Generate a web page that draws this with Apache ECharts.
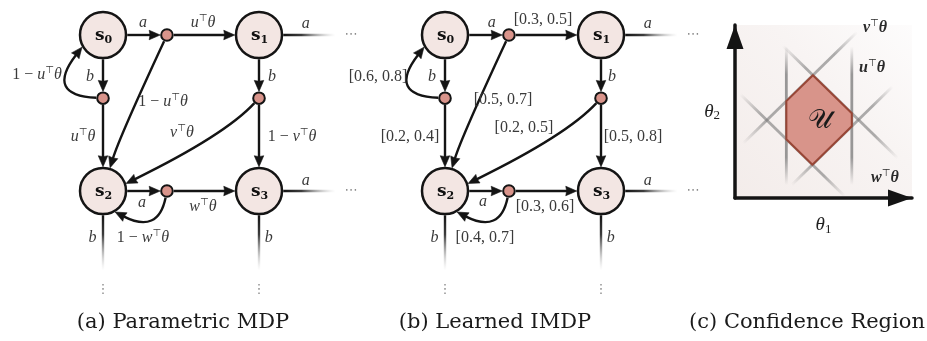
<!DOCTYPE html>
<html>
<head>
<meta charset="utf-8">
<script src="https://cdn.jsdelivr.net/npm/echarts@6/dist/echarts.min.js"></script>
<style>
  html, body { margin: 0; padding: 0; background: #ffffff; }
  #main { width: 927px; height: 341px; }
</style>
</head>
<body>
<div id="main"></div>
<script>
// ---------------- MDP fragment: states, choice nodes, transitions ----------------
const stateIds  = ['s0', 's1', 's2', 's3'];
const choiceIds = ['a0', 'b0', 'b1', 'a2'];          // (state, action) nodes
const edgeFrom  = ['s0', 'a0', 'a0', 's0', 'b0', 'b0', 's1', 'b1', 'b1', 's2', 'a2', 'a2'];
const edgeTo    = ['a0', 's1', 's2', 'b0', 's0', 's2', 'b1', 's2', 's3', 'a2', 's3', 's2'];

// (a) parametric transition probabilities / action names
const paramLabels = ['a', 'u⊤θ', '1 − u⊤θ', 'b', '1 − u⊤θ', 'u⊤θ', 'b', 'v⊤θ', '1 − v⊤θ', 'a', 'w⊤θ', '1 − w⊤θ'];
// (b) learned probability intervals (null where the edge is an action choice)
const actionNames  = ['a', null, null, 'b', null, null, 'b', null, null, 'a', null, null];
const intervalLow  = [null, 0.3, 0.5, null, 0.6, 0.2, null, 0.2, 0.5, null, 0.3, 0.4];
const intervalHigh = [null, 0.5, 0.7, null, 0.8, 0.4, null, 0.5, 0.8, null, 0.6, 0.7];

// transitions that leave the drawn fragment
const stubFrom   = ['s1', 's3', 's2', 's3'];
const stubAction = ['a', 'a', 'b', 'b'];
const stubDir    = ['right', 'right', 'down', 'down'];

// (c) confidence region over (θ1, θ2): bounding constraint lines and the region polygon
const segNames = ['u', 'u', 'v', 'v', 'w', 'w'];
const segX1 = [2.9, 6.6, 0.45, 3.2, 2.7, 0.3];
const segY1 = [0.75, 0.75, 3.15, 0.75, 8.8, 6.0];
const segX2 = [2.9, 6.6, 6.9, 8.9, 9.2, 6.2];
const segY2 = [8.75, 8.75, 9.6, 6.45, 2.3, 0.1];
const regionT1 = [4.4, 6.6, 6.6, 4.375, 2.9, 2.9];
const regionT2 = [7.1, 4.9, 4.15, 1.925, 3.4, 5.6];
const constraintLabels = ['v⊤θ', 'u⊤θ', 'w⊤θ'];

const captions = ['(a) Parametric MDP', '(b) Learned IMDP', '(c) Confidence Region'];

// ---------------- layout (grid units: column, row) ----------------
const nodePos = {
  s0: [0, 0], s1: [1, 0], s2: [0, 1], s3: [1, 1],
  a0: [0.41, 0], b0: [0, 0.405], b1: [1, 0.405], a2: [0.41, 1]
};
const bendCtrl   = { 2: [0.103, 0.66], 4: [-0.372, 0.385], 7: [0.782, 0.641], 11: [0.353, 1.276] };
const bendEndDeg = { 2: -73, 4: 150, 7: -18, 11: 60 };
const labelPosA = [[0.256, -0.077], [0.641, -0.077], [0.385, 0.43], [-0.083, 0.27], [-0.423, 0.256], [-0.128, 0.654],
                   [1.083, 0.27], [0.506, 0.628], [1.212, 0.654], [0.25, 1.077], [0.641, 1.103], [0.256, 1.301]];
const labelPosB = [[0.30, -0.077], [0.628, -0.096], [0.372, 0.417], [-0.083, 0.269], [-0.429, 0.269], [-0.224, 0.654],
                   [1.07, 0.27], [0.506, 0.596], [1.205, 0.654], [0.244, 1.07], [0.641, 1.103], [0.256, 1.301]];
const stubLabelOff = [[0.3, -0.07], [0.3, -0.065], [-0.068, 0.30], [0.062, 0.30]];
const constraintLabelPos = [[7.91, 9.83], [7.74, 7.51], [8.47, 1.16]];
const regionLabelPos = [4.8, 4.45];

// ---------------- styling ----------------
const INK = '#141414';
const LABEL_INK = '#3a3a3a';
const STATE_FILL = '#f3e6e3';
const CHOICE_FILL = '#d9948b';
const R_STATE = 23, W_STATE = 2.5, R_CHOICE = 5.8, W_CHOICE = 2;
const EDGE_W = 2.4, ARROW_L = 11, ARROW_W = 9.5;
const MATH_FONT = "'Liberation Serif', 'DejaVu Serif', serif";
const CAPTION_FONT = "'DejaVu Serif', serif";

function mathRich(size, bold, color) {
  const sup = Math.round(size * 0.62);
  return {
    i: { fontFamily: MATH_FONT, fontStyle: 'italic', fontWeight: bold ? 'bold' : 'normal', fontSize: size, lineHeight: size + 4, verticalAlign: 'middle', fill: color, color: color },
    r: { fontFamily: MATH_FONT, fontSize: size, lineHeight: size + 4, verticalAlign: 'middle', fill: color, color: color },
    t: { fontFamily: "'DejaVu Sans', sans-serif", fontSize: sup, lineHeight: sup + 2, verticalAlign: 'top', fill: color, color: color }
  };
}
const RICH_LABEL = mathRich(16, false, LABEL_INK);
const RICH_VEC = mathRich(16, true, '#2a2a2a');

// math-style markup: letters italic, ⊤ raised, everything else upright
function toRich(s) {
  let out = '';
  for (const ch of s) {
    if (ch === '⊤') out += '{t|⊤}';
    else if (/[a-zθ]/.test(ch)) out += '{i|' + ch + '}';
    else out += '{r|' + ch + '}';
  }
  return out;
}
const intervalLabels = actionNames.map((a, i) =>
  a !== null ? a : '[' + intervalLow[i].toFixed(1) + ', ' + intervalHigh[i].toFixed(1) + ']');

function isState(id) { return stateIds.indexOf(id) >= 0; }
function outerR(id) { return isState(id) ? R_STATE + W_STATE / 2 : R_CHOICE + W_CHOICE / 2; }
function unit(dx, dy) { const l = Math.hypot(dx, dy) || 1; return [dx / l, dy / l]; }

function arrowHead(tip, d) {
  const n = [-d[1], d[0]];
  const bx = tip[0] - d[0] * ARROW_L, by = tip[1] - d[1] * ARROW_L;
  const mx = tip[0] - d[0] * ARROW_L * 0.92, my = tip[1] - d[1] * ARROW_L * 0.92;
  return {
    type: 'polygon',
    shape: { points: [tip, [bx + n[0] * ARROW_W / 2, by + n[1] * ARROW_W / 2], [mx, my], [bx - n[0] * ARROW_W / 2, by - n[1] * ARROW_W / 2]] },
    style: { fill: INK, stroke: INK, lineWidth: 0.6, lineJoin: 'round' }
  };
}

function renderEdge(params, api) {
  const i = api.value(2);
  const f = edgeFrom[i], t = edgeTo[i];
  const A = api.coord(nodePos[f]), B = api.coord(nodePos[t]);
  const ra = outerR(f), rb = outerR(t);
  let tip, d, path;
  if (bendCtrl[i]) {
    const C = api.coord(bendCtrl[i]);
    const u0 = unit(C[0] - A[0], C[1] - A[1]);
    const start = [A[0] + u0[0] * ra, A[1] + u0[1] * ra];
    const ang = bendEndDeg[i] * Math.PI / 180;
    tip = [B[0] + Math.cos(ang) * rb, B[1] + Math.sin(ang) * rb];
    d = unit(tip[0] - C[0], tip[1] - C[1]);
    const end = [tip[0] - d[0] * (ARROW_L - 1.5), tip[1] - d[1] * (ARROW_L - 1.5)];
    path = { type: 'bezierCurve', shape: { x1: start[0], y1: start[1], x2: end[0], y2: end[1], cpx1: C[0], cpy1: C[1] },
             style: { stroke: INK, fill: 'none', lineWidth: EDGE_W } };
  } else {
    d = unit(B[0] - A[0], B[1] - A[1]);
    const start = [A[0] + d[0] * ra, A[1] + d[1] * ra];
    tip = [B[0] - d[0] * rb, B[1] - d[1] * rb];
    const end = [tip[0] - d[0] * (ARROW_L - 1.5), tip[1] - d[1] * (ARROW_L - 1.5)];
    path = { type: 'line', shape: { x1: start[0], y1: start[1], x2: end[0], y2: end[1] },
             style: { stroke: INK, fill: 'none', lineWidth: EDGE_W } };
  }
  return { type: 'group', children: [path, arrowHead(tip, d)] };
}

function renderStub(params, api) {
  const i = api.value(2);
  const p = nodePos[stubFrom[i]];
  const C = api.coord(p);
  const right = stubDir[i] === 'right';
  const r = outerR(stubFrom[i]);
  const endPt = api.coord(right ? [p[0] + 0.49, p[1]] : [p[0], p[1] + 0.51]);
  const dotPt = api.coord(right ? [p[0] + 0.59, p[1]] : [p[0], p[1] + 0.635]);
  const start = right ? [C[0] + r, C[1]] : [C[0], C[1] + r];
  const lab = api.coord([p[0] + stubLabelOff[i][0], p[1] + stubLabelOff[i][1]]);
  const grad = new echarts.graphic.LinearGradient(start[0], start[1], endPt[0], endPt[1], [
    { offset: 0, color: 'rgba(20,20,20,1)' },
    { offset: 0.35, color: 'rgba(50,50,50,0.95)' },
    { offset: 1, color: 'rgba(180,180,180,0)' }
  ], true);
  return {
    type: 'group',
    children: [
      { type: 'line', shape: { x1: start[0], y1: start[1], x2: endPt[0], y2: endPt[1] },
        style: { stroke: grad, fill: 'none', lineWidth: EDGE_W } },
      { type: 'text', x: lab[0], y: lab[1],
        style: { text: toRich(stubAction[i]), rich: RICH_LABEL, align: 'center', verticalAlign: 'middle', fill: LABEL_INK } },
      { type: 'text', x: dotPt[0], y: dotPt[1],
        style: { text: right ? '⋯' : '⋮', font: "13px 'DejaVu Sans'", fill: '#8a8a8a', align: 'center', verticalAlign: 'middle' } }
    ]
  };
}

const allNodes = stateIds.concat(choiceIds);
function renderNode(params, api) {
  const id = allNodes[api.value(2)];
  const c = api.coord(nodePos[id]);
  if (isState(id)) {
    return {
      type: 'group',
      children: [
        { type: 'circle', shape: { cx: c[0], cy: c[1], r: R_STATE }, style: { fill: STATE_FILL, stroke: INK, lineWidth: W_STATE } },
        { type: 'text', x: c[0] + 0.5, y: c[1] + 1,
          style: { text: '{s|s}{n|' + id.slice(1) + '}', align: 'center', verticalAlign: 'middle', fill: '#111',
            rich: {
              s: { fontFamily: CAPTION_FONT, fontWeight: 'bold', fontSize: 17, lineHeight: 20, verticalAlign: 'middle', fill: '#111' },
              n: { fontFamily: CAPTION_FONT, fontWeight: 'bold', fontSize: 11, lineHeight: 11, verticalAlign: 'bottom', fill: '#111' }
            } } }
      ]
    };
  }
  return { type: 'circle', shape: { cx: c[0], cy: c[1], r: R_CHOICE }, style: { fill: CHOICE_FILL, stroke: INK, lineWidth: W_CHOICE } };
}

function makeLabelRender(labels) {
  return function (params, api) {
    const i = api.value(2);
    const p = api.coord([api.value(0), api.value(1)]);
    return { type: 'text', x: p[0], y: p[1],
      style: { text: toRich(labels[i]), rich: RICH_LABEL, align: 'center', verticalAlign: 'middle', fill: LABEL_INK } };
  };
}

function panelSeries(g, labels, labelPos) {
  return [
    { type: 'custom', xAxisIndex: g, yAxisIndex: g, z: 2, silent: true,
      data: edgeFrom.map((f, i) => [nodePos[f][0], nodePos[f][1], i]), renderItem: renderEdge },
    { type: 'custom', xAxisIndex: g, yAxisIndex: g, z: 2, silent: true,
      data: stubFrom.map((f, i) => [nodePos[f][0], nodePos[f][1], i]), renderItem: renderStub },
    { type: 'custom', xAxisIndex: g, yAxisIndex: g, z: 3, silent: true,
      data: allNodes.map((id, i) => [nodePos[id][0], nodePos[id][1], i]), renderItem: renderNode },
    { type: 'custom', xAxisIndex: g, yAxisIndex: g, z: 4, silent: true,
      data: labelPos.map((p, i) => [p[0], p[1], i]), renderItem: makeLabelRender(labels) }
  ];
}

// ---------------- confidence region renderers ----------------
function renderSegment(params, api) {
  const i = params.dataIndex;
  const p1 = api.coord([api.value(0), api.value(1)]);
  const p2 = api.coord([api.value(2), api.value(3)]);
  const a = segNames[i] === 'u' ? 0.75 : 0.6;
  const grad = new echarts.graphic.LinearGradient(p1[0], p1[1], p2[0], p2[1], [
    { offset: 0, color: 'rgba(120,120,120,0)' },
    { offset: 0.2, color: 'rgba(120,120,120,' + a + ')' },
    { offset: 0.8, color: 'rgba(120,120,120,' + a + ')' },
    { offset: 1, color: 'rgba(120,120,120,0)' }
  ], true);
  return { type: 'line', shape: { x1: p1[0], y1: p1[1], x2: p2[0], y2: p2[1] },
           style: { stroke: grad, fill: 'none', lineWidth: 2.8 } };
}
function renderRegion(params, api) {
  const pts = regionT1.map((t1, k) => api.coord([t1, regionT2[k]]));
  const c = api.coord(regionLabelPos);
  return {
    type: 'group',
    children: [
      { type: 'polygon', shape: { points: pts },
        style: { fill: 'rgba(214,142,132,0.95)', stroke: '#984636', lineWidth: 2, lineJoin: 'round' } },
      { type: 'text', x: c[0], y: c[1],
        style: { text: '𝒰', font: "27px 'DejaVu Serif', 'Noto Sans', serif", fill: '#1a1a1a', align: 'center', verticalAlign: 'middle' } }
    ]
  };
}
function renderConstraintLabel(params, api) {
  const i = api.value(2);
  const p = api.coord([api.value(0), api.value(1)]);
  return { type: 'text', x: p[0], y: p[1],
    style: { text: toRich(constraintLabels[i]), rich: RICH_VEC, align: 'center', verticalAlign: 'middle', fill: '#2a2a2a' } };
}

const hiddenAxis = (g, inverse) => ({ gridIndex: g, type: 'value', min: 0, max: 1, inverse: !!inverse, show: false });
const thetaRich = {
  i: { fontFamily: MATH_FONT, fontStyle: 'italic', fontSize: 19, lineHeight: 22, verticalAlign: 'middle', color: '#222' },
  n: { fontFamily: MATH_FONT, fontSize: 13, lineHeight: 13, verticalAlign: 'bottom', color: '#222' }
};
const thetaAxisLine = {
  show: true,
  lineStyle: { color: INK, width: 3.5 },
  symbol: ['none', 'triangle'],
  symbolSize: [17, 24],
  symbolOffset: [0, -12]
};

const option = {
  animation: false,
  backgroundColor: '#ffffff',
  grid: [
    { left: 103, top: 35, width: 156, height: 156, outerBoundsMode: 'none', containLabel: false },
    { left: 445, top: 35, width: 156, height: 156, outerBoundsMode: 'none', containLabel: false },
    { left: 735, top: 25, width: 177, height: 173, outerBoundsMode: 'none', containLabel: false,
      show: true, borderWidth: 0,
      backgroundColor: new echarts.graphic.LinearGradient(0, 1, 1, 0, [
        { offset: 0, color: '#f3ecea' },
        { offset: 0.6, color: '#f8f4f3' },
        { offset: 1, color: '#fdfcfc' }
      ]) }
  ],
  xAxis: [
    hiddenAxis(0), hiddenAxis(1),
    { gridIndex: 2, type: 'value', min: 0, max: 10, axisLine: thetaAxisLine,
      axisTick: { show: false }, axisLabel: { show: false }, splitLine: { show: false },
      name: '{i|θ}{n|1}', nameLocation: 'middle', nameGap: 16, nameTextStyle: { rich: thetaRich } }
  ],
  yAxis: [
    hiddenAxis(0, true), hiddenAxis(1, true),
    { gridIndex: 2, type: 'value', min: 0, max: 10, axisLine: thetaAxisLine,
      axisTick: { show: false }, axisLabel: { show: false }, splitLine: { show: false },
      name: '{i|θ}{n|2}', nameLocation: 'middle', nameRotate: 0, nameGap: 15, nameTextStyle: { rich: thetaRich } }
  ],
  graphic: captions.map((text, k) => ({
    type: 'text',
    x: [183, 495, 807][k],
    y: 323,
    style: { text: text, font: "21px " + CAPTION_FONT, fill: '#1a1a1a', textAlign: 'center', textVerticalAlign: 'middle', align: 'center', verticalAlign: 'middle' }
  })),
  series: [
    ...panelSeries(0, paramLabels, labelPosA),
    ...panelSeries(1, intervalLabels, labelPosB),
    { type: 'custom', xAxisIndex: 2, yAxisIndex: 2, z: 2, silent: true,
      data: segX1.map((x, i) => [x, segY1[i], segX2[i], segY2[i]]),
      encode: { x: [0, 2], y: [1, 3] }, renderItem: renderSegment },
    { type: 'custom', xAxisIndex: 2, yAxisIndex: 2, z: 3, silent: true,
      data: [[regionLabelPos[0], regionLabelPos[1]]], renderItem: renderRegion },
    { type: 'custom', xAxisIndex: 2, yAxisIndex: 2, z: 4, silent: true,
      data: constraintLabelPos.map((p, i) => [p[0], p[1], i]), renderItem: renderConstraintLabel }
  ]
};

const chart = echarts.init(document.getElementById('main'), null, { renderer: 'canvas' });
chart.setOption(option);
</script>
</body>
</html>
